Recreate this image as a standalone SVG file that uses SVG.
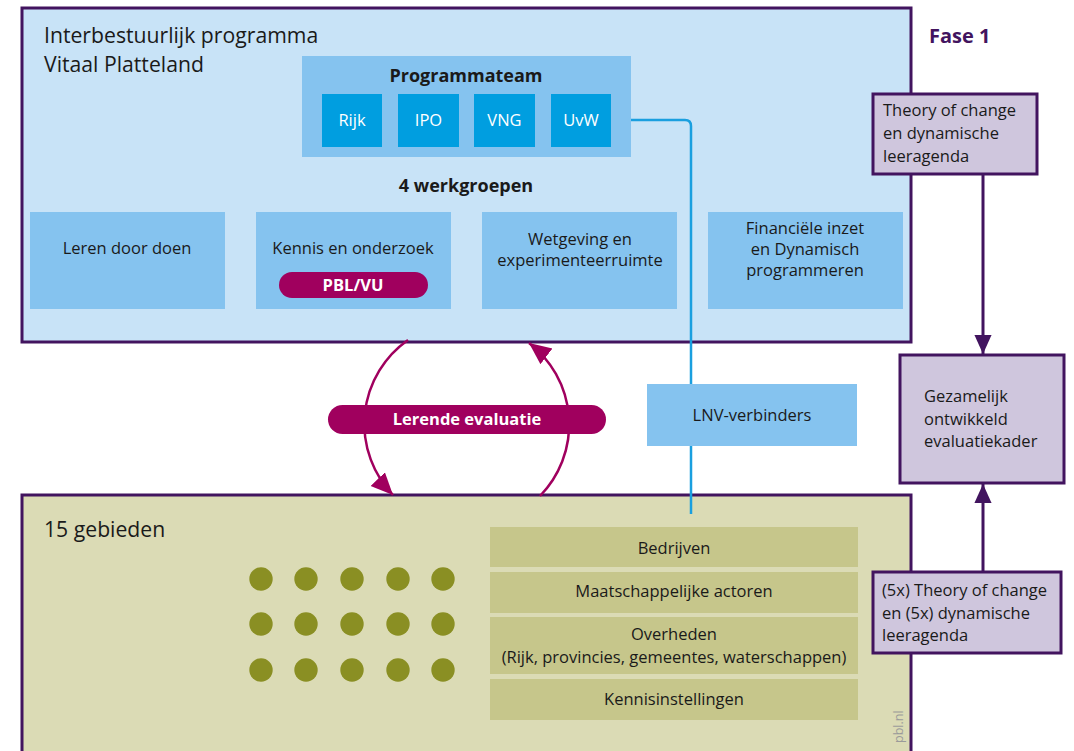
<svg xmlns="http://www.w3.org/2000/svg" width="1074" height="751" viewBox="0 0 1074 751">
<defs>
<style>
text{font-family:"Open Sans","Noto Sans","Liberation Sans",sans-serif;fill:#1a1a1a}
.big{font-size:21.2px}
.n{font-size:16.5px}
.h{font-size:18px}
.c{text-anchor:middle}
.b{font-weight:bold}
.w{fill:#fff}
.frame{stroke:#42145f;stroke-width:3}
.mid{fill:#85c3ef}
.strong{fill:#009ee0}
.lilac{fill:#cfc6dd;stroke:#42145f;stroke-width:3}
.row{fill:#c6c68b}
.dot{fill:#8a8f23}
.pill{fill:#a0005e}
</style>
<marker id="mArr" viewBox="0 0 20 20" refX="20" refY="10" markerWidth="22" markerHeight="22" markerUnits="userSpaceOnUse" orient="auto">
<path d="M0,1 L20,10 L0,19 Z" fill="#a0005e"/>
</marker>
<marker id="pArr" viewBox="0 0 20 20" refX="20" refY="10" markerWidth="19" markerHeight="19" markerUnits="userSpaceOnUse" orient="auto">
<path d="M0,1 L20,10 L0,19 Z" fill="#42145f"/>
</marker>
</defs>
<rect width="1074" height="751" fill="#fff"/>

<g id="programma">
<rect class="frame" x="22" y="8" width="889" height="334" fill="#c8e3f7"/>
<text class="big" x="44" y="43">Interbestuurlijk programma</text>
<text class="big" x="44" y="72">Vitaal Platteland</text>
</g>

<g id="gebieden">
<rect class="frame" x="22" y="495" width="889" height="262" fill="#dbdbb5"/>
<text class="big" x="44" y="537">15 gebieden</text>
<g id="dots">
<circle class="dot" cx="261" cy="579" r="11.7"/><circle class="dot" cx="306" cy="579" r="11.7"/><circle class="dot" cx="352" cy="579" r="11.7"/><circle class="dot" cx="398" cy="579" r="11.7"/><circle class="dot" cx="443" cy="579" r="11.7"/>
<circle class="dot" cx="261" cy="624" r="11.7"/><circle class="dot" cx="306" cy="624" r="11.7"/><circle class="dot" cx="352" cy="624" r="11.7"/><circle class="dot" cx="398" cy="624" r="11.7"/><circle class="dot" cx="443" cy="624" r="11.7"/>
<circle class="dot" cx="261" cy="670" r="11.7"/><circle class="dot" cx="306" cy="670" r="11.7"/><circle class="dot" cx="352" cy="670" r="11.7"/><circle class="dot" cx="398" cy="670" r="11.7"/><circle class="dot" cx="443" cy="670" r="11.7"/>
</g>
<text x="903" y="743" transform="rotate(-90 903 743)" style="font-size:12.5px;fill:#9a9a9a">pbl.nl</text>
</g>

<g id="connectors">
<path d="M611 120 H685 Q691 120 691 126 V514" fill="none" stroke="#1a9fdf" stroke-width="2.5"/>
<path d="M408 340 A102.5 102.5 0 0 0 393 495" fill="none" stroke="#a0005e" stroke-width="2.5" marker-end="url(#mArr)"/>
<path d="M540 496 A102.5 102.5 0 0 0 529 343" fill="none" stroke="#a0005e" stroke-width="2.5" marker-end="url(#mArr)"/>
<path d="M983 175 V354" fill="none" stroke="#42145f" stroke-width="3" marker-end="url(#pArr)"/>
<path d="M983 571 V484" fill="none" stroke="#42145f" stroke-width="3" marker-end="url(#pArr)"/>
</g>

<g id="programmateam">
<rect class="mid" x="302" y="56" width="329" height="101"/>
<text class="h c b" x="466" y="82">Programmateam</text>
<rect class="strong" x="322" y="94" width="60" height="53"/>
<text class="n c w" x="352" y="126">Rijk</text>
<rect class="strong" x="398" y="94" width="61" height="53"/>
<text class="n c w" x="428.5" y="126">IPO</text>
<rect class="strong" x="474" y="94" width="61" height="53"/>
<text class="n c w" x="504.5" y="126">VNG</text>
<rect class="strong" x="551" y="94" width="60" height="53"/>
<text class="n c w" x="581" y="126">UvW</text>
</g>

<text class="h c b" x="466" y="192">4 werkgroepen</text>

<g id="wg-leren">
<rect class="mid" x="30" y="212" width="195" height="97"/>
<text class="n c" x="127" y="254">Leren door doen</text>
</g>
<g id="wg-kennis">
<rect class="mid" x="256" y="212" width="195" height="97"/>
<text class="n c" x="353" y="254">Kennis en onderzoek</text>
<rect class="pill" x="279" y="272" width="149" height="26" rx="13"/>
<text class="n c b w" x="353" y="291">PBL/VU</text>
</g>
<g id="wg-wetgeving">
<rect class="mid" x="482" y="212" width="195" height="97"/>
<text class="n c" x="580" y="245">Wetgeving en</text>
<text class="n c" x="580" y="266">experimenteerruimte</text>
</g>
<g id="wg-financieel">
<rect class="mid" x="708" y="212" width="195" height="97"/>
<text class="n c" x="805" y="234">Financiële inzet</text>
<text class="n c" x="805" y="255">en Dynamisch</text>
<text class="n c" x="805" y="276">programmeren</text>
</g>

<g id="lnv">
<rect class="mid" x="647" y="384" width="210" height="62"/>
<text class="n c" x="752" y="421">LNV-verbinders</text>
</g>

<g id="lerende">
<rect class="pill" x="328" y="405" width="278" height="29" rx="14.5"/>
<text class="n c b w" x="467" y="425">Lerende evaluatie</text>
</g>

<g id="bedrijven">
<rect class="row" x="490" y="527" width="368" height="40"/>
<text class="n c" x="674" y="554">Bedrijven</text>
</g>
<g id="maatschappelijk">
<rect class="row" x="490" y="572" width="368" height="41"/>
<text class="n c" x="674" y="597">Maatschappelijke actoren</text>
</g>
<g id="overheden">
<rect class="row" x="490" y="617" width="368" height="57"/>
<text class="n c" x="674" y="640">Overheden</text>
<text class="n c" x="674" y="663">(Rijk, provincies, gemeentes, waterschappen)</text>
</g>
<g id="kennisinstellingen">
<rect class="row" x="490" y="679" width="368" height="41"/>
<text class="n c" x="674" y="705">Kennisinstellingen</text>
</g>

<text class="b" x="929" y="43" style="font-size:20px;fill:#42145f">Fase 1</text>

<g id="toc">
<rect class="lilac" x="873" y="94" width="164" height="80"/>
<text class="n" x="883" y="116">Theory of change</text>
<text class="n" x="883" y="139">en dynamische</text>
<text class="n" x="883" y="162">leeragenda</text>
</g>
<g id="evaluatiekader">
<rect class="lilac" x="900" y="355" width="164" height="128"/>
<text class="n" x="924" y="402">Gezamelijk</text>
<text class="n" x="924" y="425">ontwikkeld</text>
<text class="n" x="924" y="447">evaluatiekader</text>
</g>
<g id="toc5">
<rect class="lilac" x="873" y="572" width="188" height="81"/>
<text class="n" x="882" y="596">(5x) Theory of change</text>
<text class="n" x="882" y="619">en (5x) dynamische</text>
<text class="n" x="882" y="641">leeragenda</text>
</g>
</svg>
